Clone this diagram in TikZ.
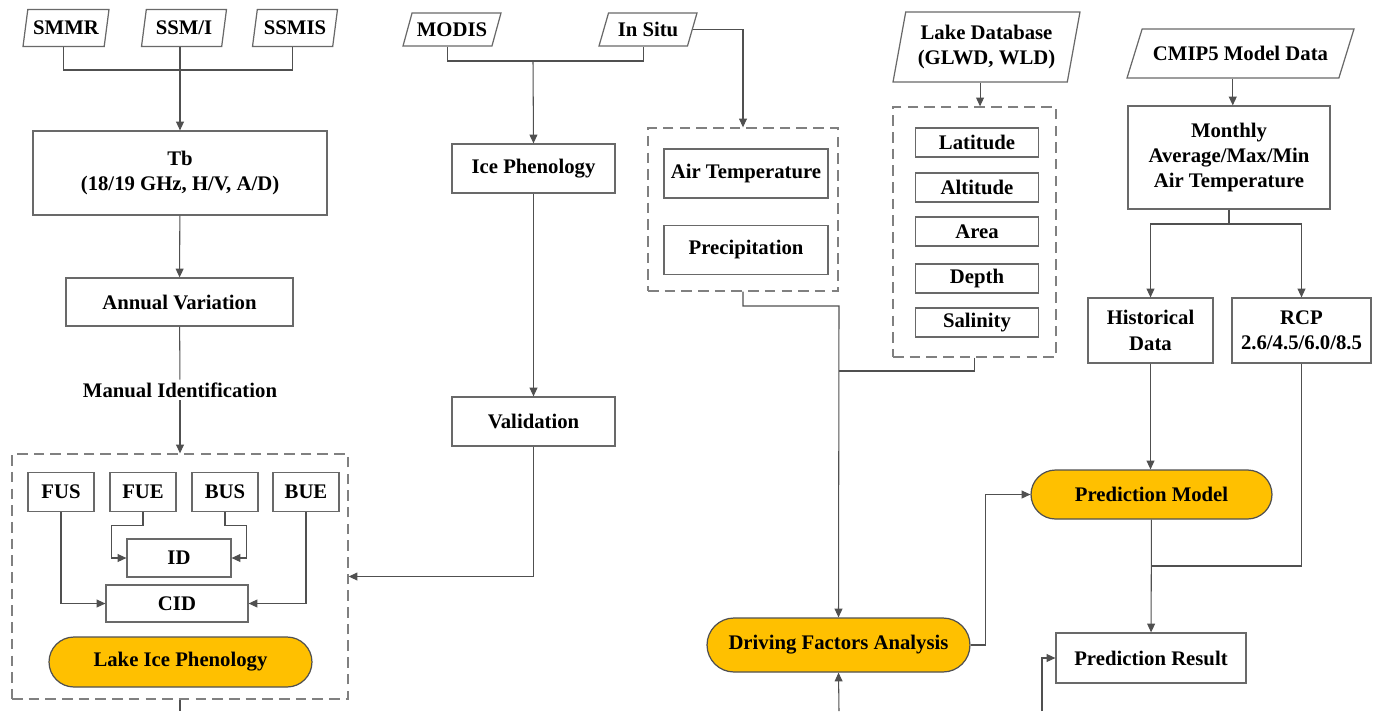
\documentclass[tikz,border=0pt]{standalone}
\usepackage{fontspec}
\setmainfont{Liberation Serif}
\usepackage{xcolor}
\usepackage{tikz}
\usetikzlibrary{shapes.geometric,shapes.misc,arrows.meta}

\definecolor{boxgray}{RGB}{105,105,105}
\definecolor{linegray}{RGB}{80,80,80}
\definecolor{dashgray}{RGB}{128,128,128}
\definecolor{gold}{RGB}{255,192,0}

\begin{document}
\begin{tikzpicture}[x=0.02cm,y=-0.02cm,
  font=\fontsize{11.8}{14.5}\selectfont\bfseries,
  box/.style={draw=boxgray,line width=0.7pt,inner sep=0pt,align=center},
  src/.style={trapezium,trapezium left angle=#1,trapezium right angle={180-#1},
    trapezium stretches body,draw=boxgray,line width=0.7pt,inner sep=0pt,align=center},
  src/.default=75,
  group/.style={draw=dashgray,line width=0.8pt,dash pattern=on 6pt off 3.5pt,inner sep=0pt},
  result/.style={rounded rectangle,draw=linegray,fill=gold,line width=0.7pt,inner sep=0pt},
  link/.style={draw=linegray,line width=0.6pt},
  arr/.style={link,-{Triangle[length=5pt,width=4.5pt]}}]
\useasboundingbox (0,0) rectangle (1376,711);

%draw data sources
\node[src=71,minimum width=1.72cm,minimum height=0.74cm] (smmr) at (66,28) {SMMR};
\node[src=71,minimum width=1.7cm,minimum height=0.74cm] (ssmi) at (184,28) {SSM/I};
\node[src=71,minimum width=1.7cm,minimum height=0.74cm] (ssmis) at (295,28) {SSMIS};
\node[src=57,minimum width=1.96cm,minimum height=0.66cm] (modis) at (452,29.5) {MODIS};
\node[src=57,minimum width=1.96cm,minimum height=0.66cm] (insitu) at (648,29.5) {In Situ};
\node[src=74,minimum width=3.74cm,minimum height=1.4cm] (lakedb) at (986.5,47) {Lake Database\\(GLWD, WLD)};
\node[src=44,minimum width=4.54cm,minimum height=0.98cm] (cmip) at (1240.5,53.5) {CMIP5 Model Data};

%draw left column
\node[box,minimum width=5.88cm,minimum height=1.68cm] (tb) at (180,173) {Tb\\(18/19 GHz, H/V, A/D)};
\node[box,minimum width=4.54cm,minimum height=0.96cm] (annual) at (179.5,302) {Annual Variation};
\node[inner sep=1.5pt] (manual) at (180,390) {Manual Identification};
\node[group,minimum width=6.72cm,minimum height=4.9cm] (lipbox) at (180,576.5) {};
\foreach \name/\lbl/\x in {fus/FUS/61, fue/FUE/143, bus/BUS/225, bue/BUE/306}{
   \node[box,minimum width=1.32cm,minimum height=0.78cm] (\name) at (\x,492) {\lbl};
}
\node[box,minimum width=2.08cm,minimum height=0.76cm] (id) at (179,558) {ID};
\node[box,minimum width=2.84cm,minimum height=0.74cm] (cid) at (177,603.5) {CID};
\node[result,minimum width=5.26cm,minimum height=1cm] (lip) at (180.5,662) {Lake Ice Phenology};

%draw middle columns
\node[box,minimum width=3.26cm,minimum height=0.98cm] (icephen) at (533.5,168.5) {Ice Phenology};
\node[box,minimum width=3.26cm,minimum height=0.98cm] (valid) at (533.5,421.5) {Validation};
\node[group,minimum width=3.8cm,minimum height=3.26cm] (climbox) at (743,209.5) {};
\node[box,minimum width=3.28cm,minimum height=0.98cm] (airtemp) at (746,173.5) {Air Temperature};
\node[box,minimum width=3.28cm,minimum height=0.98cm] (precip) at (746,250) {Precipitation};
\node[group,minimum width=3.26cm,minimum height=5cm] (lakebox) at (974.5,232) {};
\foreach \name/\lbl/\y in {lat/Latitude/142.5, alt/Altitude/187.5, area/Area/231.5, depth/Depth/278.5, sal/Salinity/322.5}{
   \node[box,minimum width=2.46cm,minimum height=0.58cm] (\name) at (977,\y) {\lbl};
}
\node[result,minimum width=5.26cm,minimum height=1.08cm] (dfa) at (838.5,645) {Driving Factors Analysis};

%draw right column
\node[box,minimum width=4.04cm,minimum height=2.06cm] (monthly) at (1229,157.5) {Monthly\\Average/Max/Min\\Air Temperature};
\node[box,minimum width=2.5cm,minimum height=1.3cm] (hist) at (1150.5,330.5) {Historical\\Data};
\node[box,minimum width=2.78cm,minimum height=1.3cm] (rcp) at (1301.5,330.5) {RCP\\2.6/4.5/6.0/8.5};
\node[result,minimum width=4.82cm,minimum height=0.98cm] (pm) at (1151.5,494.5) {Prediction Model};
\node[box,minimum width=3.8cm,minimum height=1cm] (pr) at (1151,658) {Prediction Result};

%draw junctions and loose ends
\coordinate (tbin) at (180,70);
\coordinate (phenin) at (533,61);
\coordinate (climout) at (839,306);
\coordinate (lakeout) at (839,371);
\coordinate (monthout) at (1229,224);
\coordinate (rcpout) at (1151,566);
\coordinate (lipout) at (180,711);
\coordinate (dfain) at (839,711);
\coordinate (prin) at (1042,711);

%draw left connectors
\draw[link] (smmr.bottom side) |- (tbin) -| (ssmis.bottom side);
\draw[arr] (tb.north |- ssmi.bottom side) -- (tb.north);
\draw[arr] (tb) -- (annual);
\draw[link] (annual) -- (manual);
\draw[arr] (manual) -- (lipbox.north);
\draw[arr] (fue.south) -- ++(0,13) -| ([xshift=-0.3cm]id.west) -- (id.west);
\draw[arr] (bus.south) -- ++(0,13) -| ([xshift=0.3cm]id.east) -- (id.east);
\draw[arr] (fus.south) |- (cid.west);
\draw[arr] (bue.south) |- (cid.east);
\draw[link] (lipbox.south) -- (lipout);

%draw middle connectors
\draw[link] (modis.bottom side) |- (phenin) -| (insitu.bottom side);
\draw[arr] (phenin) -- (icephen.north);
\draw[arr] (insitu.right side) -| (climbox.north);
\draw[arr] (icephen) -- (valid);
\draw[arr] (valid.south) |- (lipbox.east);
\draw[arr] (lakedb.bottom side) -- (lakedb.bottom side |- lakebox.north);
\draw[arr] (climbox.south) |- (climout) -- (dfa.north);
\draw[link] (lakebox.south) |- (lakeout);
\draw[arr] (dfain) -- (dfa.south);

%draw right connectors
\draw[arr] (cmip.bottom side) -- (cmip.bottom side |- monthly.north);
\draw[link] (monthly.south) -- (monthout);
\draw[arr] (monthout) -| (hist.north);
\draw[arr] (monthout) -| (rcp.north);
\draw[arr] (hist) -- (hist |- pm.north);
\draw[arr] (dfa.east) -- ++(15,0) |- (pm.west);
\draw[arr] (pm) -- (pr);
\draw[link] (rcp.south) |- (rcpout);
\draw[arr] (prin) |- (pr.west);
\end{tikzpicture}
\end{document}
